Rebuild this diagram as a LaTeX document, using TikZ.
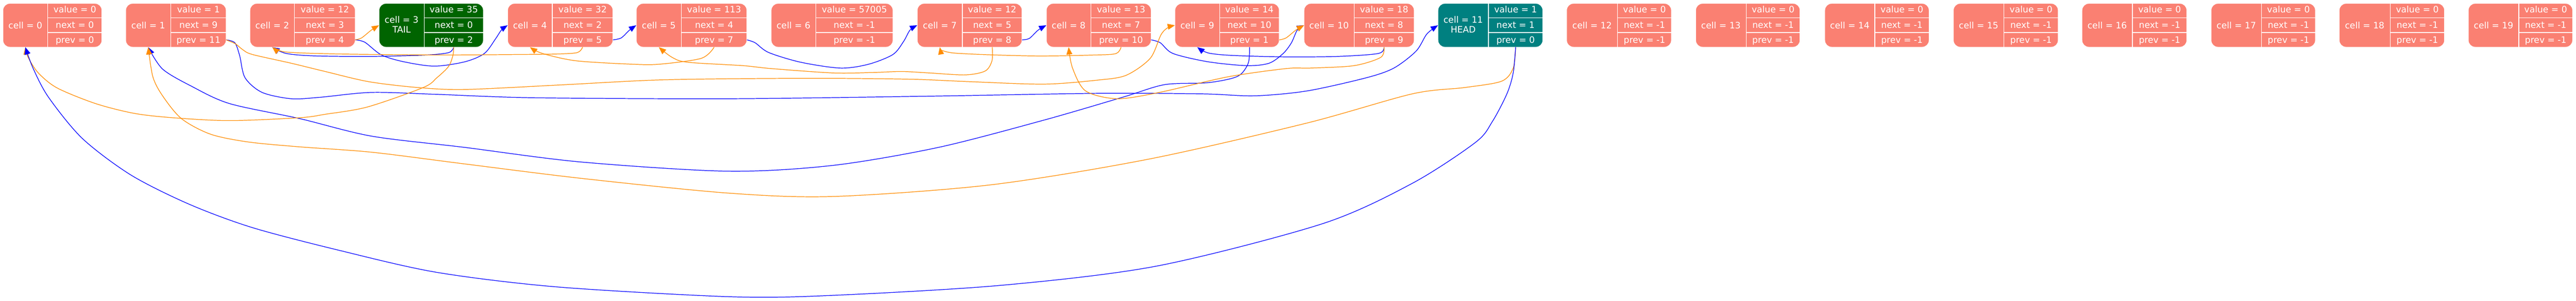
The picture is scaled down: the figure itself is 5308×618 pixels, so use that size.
\documentclass[tikz,border=0pt]{standalone}
\usepackage{fontspec}
\setmainfont{DejaVu Sans}
\usetikzlibrary{arrows.meta}
\definecolor{salmonc}{HTML}{FA8072}
\definecolor{dkgreen}{HTML}{006400}
\definecolor{tealc}{HTML}{008080}
\definecolor{dkorange}{HTML}{FF8C00}
\definecolor{pblue}{HTML}{0000FF}
\tikzset{
  lbl/.style={text=white, inner sep=0pt, anchor=center, text height=13.3pt, text depth=4.5pt,
              font=\fontsize{18.2}{20}\selectfont},
  lbltwo/.style={text=white, inner sep=0pt, anchor=center, align=center,
              font=\fontsize{18.2}{20}\selectfont},
  sep/.style={draw=white, line width=1.3pt},
  prevedge/.style={draw=pblue, line width=1.3pt, -{Triangle[length=15pt,width=12pt]}},
  nextedge/.style={draw=dkorange, line width=1.3pt, -{Triangle[length=15pt,width=12pt]}},
}
% #1 num, #2 left, #3 div, #4 right, #5 colour, #6 value, #7 next, #8 prev
\newcommand{\cellbody}[8]{%
  \path[fill=#5, draw=white, line width=1.3pt, rounded corners=14pt] (#2,7) rectangle (#4,97);
  \draw[sep] (#3,7) -- (#3,97) (#3,36.5) -- (#4,36.5) (#3,67) -- (#4,67);
  \node[lbl] (c#1v) at ({(#3+#4)/2},21.8) {value = #6};
  \node[lbl] (c#1n) at ({(#3+#4)/2},53.1) {next = #7};
  \node[lbl] (c#1p) at ({(#3+#4)/2},84.3) {prev = #8};
  \coordinate (c#1L) at (#2,52);
  \coordinate (c#1B) at ({(#2+#3)/2},97);
  \coordinate (c#1R) at (#4,82);
  \coordinate (c#1PB) at ({(#3+#4)/2},97);
}
\newcommand{\cellrec}[8]{%
  \cellbody{#1}{#2}{#3}{#4}{#5}{#6}{#7}{#8}%
  \node[lbl] (c#1) at ({(#2+#3)/2},54) {cell = #1};
}
\begin{document}
\begin{tikzpicture}[x=1pt,y=-1pt]
\useasboundingbox (0,0) rectangle (5308,618);
% records
\cellrec{0}{6}{98.5}{210}{salmonc}{0}{0}{0}
\cellrec{1}{259}{352}{466}{salmonc}{1}{9}{11}
\cellrec{2}{515}{607}{732}{salmonc}{12}{3}{4}
\cellbody{3}{781}{874}{996}{dkgreen}{35}{0}{2}
\node[lbltwo] (c3) at ({(781+874)/2},50) {cell = 3\\TAIL};
\cellrec{4}{1046}{1138}{1263}{salmonc}{32}{2}{5}
\cellrec{5}{1311}{1404}{1539}{salmonc}{113}{4}{7}
\cellrec{6}{1589}{1681}{1840}{salmonc}{57005}{-1}{-1}
\cellrec{7}{1890}{1983}{2106}{salmonc}{12}{5}{8}
\cellrec{8}{2156}{2248}{2372}{salmonc}{13}{7}{10}
\cellrec{9}{2421}{2513}{2636}{salmonc}{14}{10}{1}
\cellrec{10}{2687}{2790}{2914}{salmonc}{18}{8}{9}
\cellbody{11}{2963}{3067}{3179}{tealc}{1}{1}{0}
\node[lbltwo] (c11) at ({(2963+3067)/2},50) {cell = 11\\HEAD};
\cellrec{12}{3228}{3333}{3444}{salmonc}{0}{-1}{-1}
\cellrec{13}{3494}{3598}{3709}{salmonc}{0}{-1}{-1}
\cellrec{14}{3760}{3863}{3975}{salmonc}{0}{-1}{-1}
\cellrec{15}{4025}{4129}{4241}{salmonc}{0}{-1}{-1}
\cellrec{16}{4290}{4394}{4506}{salmonc}{0}{-1}{-1}
\cellrec{17}{4556}{4660}{4771}{salmonc}{0}{-1}{-1}
\cellrec{18}{4820}{4925}{5037}{salmonc}{0}{-1}{-1}
\cellrec{19}{5086}{5190}{5301}{salmonc}{0}{-1}{-1}
% prev links (blue)
\draw[prevedge] plot[smooth] coordinates {(c1R) (484,88) (494,115) (505,160) (540,190) (600,203) (660,200) (766,190) (900,194) (1100,201) (1500,203) (1900,198) (2259,192) (2476,193) (2585,197) (2693,187) (2815,160) (2872,140) (2918,105) (2940,70) (c11L)};
\draw[prevedge] plot[smooth] coordinates {(c9PB) (2572,130) (2550,157) (2489,170) (2400,174) (2313,200) (2151,247) (1934,303) (1717,340) (1500,352) (1196,333) (957,303) (766,280) (618,244) (473,213) (394,177) (335,142) (c1B)};
\draw[prevedge] plot[smooth] coordinates {(c10PB) (2840,110) (2757,116) (2650,117) (2540,114) (2490,109) (c9B)};
\draw[prevedge] plot[smooth] coordinates {(c8R) (2391,88) (2417,110) (2489,127) (2569,135) (2615,130) (2644,110) (2661,88) (2673,62) (c10L)};
\draw[prevedge] plot[smooth] coordinates {(c7R) (2121,79) (2139,62) (c8L)};
\draw[prevedge] plot[smooth] coordinates {(c5R) (1556,88) (1584,108) (1650,128) (1732,140) (1790,132) (1840,112) (1862,85) (1875,62) (c7L)};
\draw[prevedge] plot[smooth] coordinates {(c4R) (1280,78) (1297,62) (c5L)};
\draw[prevedge] plot[smooth] coordinates {(c2R) (752,87) (786,113) (832,127) (895,136) (958,127) (998,110) (1021,80) (1033,62) (c4L)};
\draw[prevedge] plot[smooth] coordinates {(c3PB) (925,108) (880,113) (766,116) (650,115) (590,110) (c2B)};
% next links (orange)
\draw[nextedge] plot[smooth] coordinates {(c11PB) (3118,140) (3094,167) (3018,180) (2910,193) (2693,253) (2368,327) (2042,380) (1717,404) (1500,397) (1200,367) (957,337) (766,313) (618,302) (512,292) (434,276) (374,244) (335,197) (315,158) (c1B)};
\draw[nextedge] plot[smooth] coordinates {(c1R) (485,90) (500,102) (520,112) (600,130) (670,147) (760,168) (861,180) (957,184) (1148,175) (1340,165) (1500,162) (1700,161) (1880,163) (2000,168) (2151,173) (2259,165) (2320,155) (2370,120) (2392,72) (2406,57) (c9L)};
\draw[nextedge] plot[smooth] coordinates {(c9R) (2650,78) (2670,62) (c10L)};
\draw[nextedge] plot[smooth] coordinates {(c10PB) (2845,118) (2790,135) (2700,140) (2650,141) (2530,158) (2389,190) (2302,203) (2237,187) (2210,140) (c8B)};
\draw[nextedge] plot[smooth] coordinates {(c8PB) (2300,110) (2259,113) (2129,115) (1965,109) (c7B)};
\draw[nextedge] plot[smooth] coordinates {(c7PB) (2044,125) (2030,146) (1989,154) (1915,150) (1858,147) (1800,149) (1717,150) (1589,141) (1531,135) (1417,128) (1385,118) (c5B)};
\draw[nextedge] plot[smooth] coordinates {(c5PB) (1445,120) (1359,132) (1302,132) (1187,125) (1118,110) (c4B)};
\draw[nextedge] plot[smooth] coordinates {(c4PB) (1190,108) (1150,111) (1072,112) (900,113) (700,111) (590,107) (c2B)};
\draw[nextedge] plot[smooth] coordinates {(c2R) (745,78) (765,62) (c3L)};
\draw[nextedge] plot[smooth] coordinates {(c3PB) (933,115) (924,137) (900,160) (872,180) (757,220) (670,235) (618,242) (473,248) (355,242) (276,233) (197,213) (118,181) (79,150) (58,118) (c0B)};
% HEAD prev link to cell 0 (blue, on top)
\draw[prevedge] plot[smooth] coordinates {(c11PB) (3118,150) (3105,193) (3075,250) (3040,293) (2910,377) (2725,460) (2384,547) (2059,587) (1700,608) (1500,610) (1148,590) (900,560) (700,515) (520,468) (390,420) (270,360) (170,285) (100,200) (68,140) (c0B)};
\end{tikzpicture}
\end{document}
